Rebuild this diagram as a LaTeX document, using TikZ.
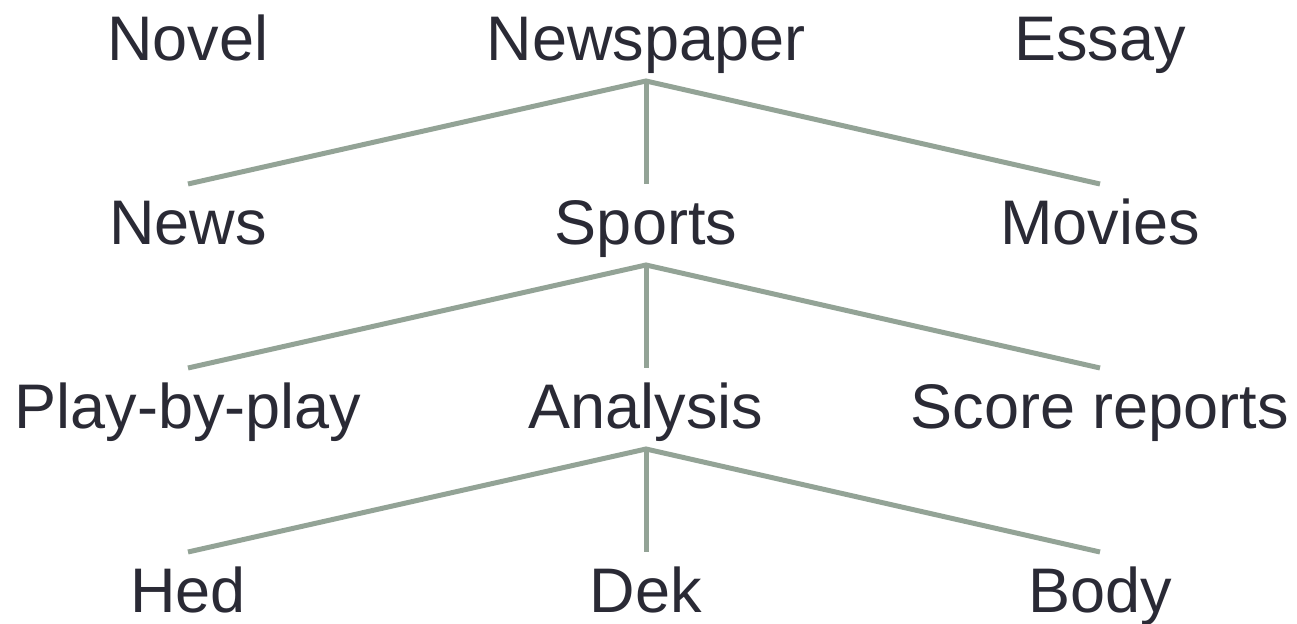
\documentclass[tikz,border=0pt]{standalone}
\usepackage{fontspec}
\setmainfont{Liberation Sans}
\usepackage{tikz}
\usetikzlibrary{positioning}
\definecolor{inkgray}{HTML}{2A2A35}
\definecolor{sagegray}{HTML}{93A396}

\begin{document}
\begin{tikzpicture}[x=0.5pt, y=-0.5pt,
    term/.style={anchor=base, inner sep=0pt, outer xsep=0pt, outer ysep=8pt,
        text height=22.5pt, text depth=2pt, text=inkgray,
        font=\fontsize{31.5pt}{36pt}\selectfont},
    branch/.style={draw=sagegray, line width=2.5pt}] %坐标单位取半个点
    \useasboundingbox (0,0) rectangle (1297,624);
    % 第一层
    \node[term] (novel) at (188,61) {Novel};
    \node[term] (newspaper) at (646,61) {Newspaper};
    \node[term] (essay) at (1100,61) {Essay};
    % 第二层
    \node[term] (news) at (188,245) {News};
    \node[term] (sports) at (646,245) {Sports};
    \node[term] (movies) at (1100,245) {Movies};
    % 第三层
    \node[term] (playbyplay) at (188,429) {Play-by-play};
    \node[term] (analysis) at (646,429) {Analysis};
    \node[term] (scores) at (1100,429) {Score reports};
    % 第四层
    \node[term] (hed) at (188,613) {Hed};
    \node[term] (dek) at (646,613) {Dek};
    \node[term] (body) at (1100,613) {Body};

    \draw[branch] (news.north) -- (newspaper.south) -- (movies.north);
    \draw[branch] (newspaper.south) -- (sports.north);
    \draw[branch] (playbyplay.north) -- (sports.south) -- (scores.north);
    \draw[branch] (sports.south) -- (analysis.north);
    \draw[branch] (hed.north) -- (analysis.south) -- (body.north);
    \draw[branch] (analysis.south) -- (dek.north); %最后一层分支
\end{tikzpicture}
\end{document}
